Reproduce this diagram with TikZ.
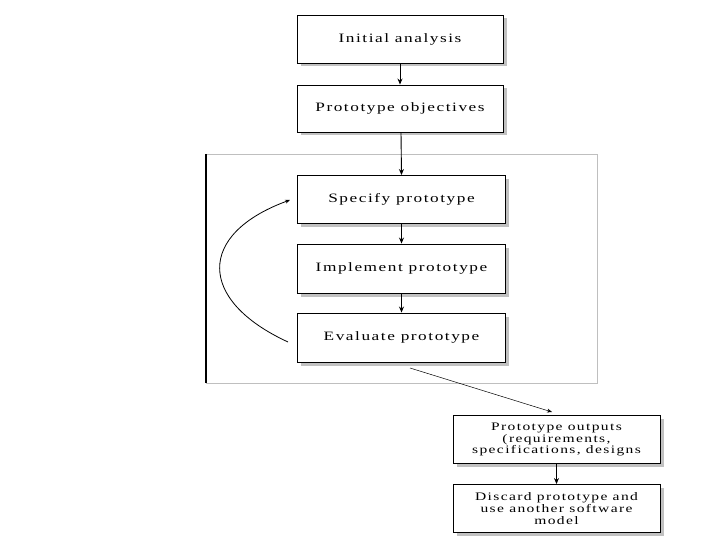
\documentclass[tikz,border=0pt]{standalone}
\usepackage{fontspec}
\setmainfont{Liberation Serif}
\newfontfamily\boxfont[FakeStretch=1.35,LetterSpace=12]{Liberation Serif}
\usetikzlibrary{shadows,arrows.meta}
\begin{document}
\begin{tikzpicture}[x=1pt,y=-1pt,
  stepbox/.style={draw=black,line width=0.9pt,fill=white,minimum width=206pt,minimum height=48pt,
    inner sep=1pt,align=center,font=\boxfont\fontsize{12.8}{12}\selectfont,
    drop shadow={shadow xshift=3.5pt,shadow yshift=-3.5pt,fill=gray!60,opacity=0.8}},
  multibox/.style={stepbox,font=\boxfont\fontsize{11.5}{11.8}\selectfont},
  arr/.style={-{Stealth[length=6pt,width=5pt]},line width=0.9pt},
  thinarr/.style={-{Stealth[length=5pt,width=4pt]},line width=0.5pt}]
\useasboundingbox (0,0) rectangle (720,540);
% outer frame
\draw[gray!50,line width=0.6pt] (206,154) rectangle (597,383);
\draw[black,line width=1.8pt] (206,154) -- (206,383);
\node[stepbox] (ia) at (400,39) {Initial analysis};
\node[stepbox,minimum height=47pt] (po) at (400,108.5) {Prototype objectives};
\node[stepbox,minimum width=208pt] (sp) at (401.5,199.5) {Specify prototype};
\node[stepbox,minimum width=208pt,minimum height=49pt] (ip) at (401.5,268.5) {Implement prototype};
\node[stepbox,minimum width=208pt,minimum height=49pt] (ep) at (401.5,337.5) {Evaluate prototype};
\node[multibox,minimum width=207pt] (out) at (556.5,439.5) {Prototype outputs\\(requirements,\\specifications, designs};
\node[multibox,minimum width=207pt] (dis) at (556.5,508.5) {Discard prototype and\\use another software\\model};
\draw[arr] (ia.south) -- (ia.south |- po.north);
\draw[arr] (po.south) ++(1,0) -- (sp.north);
\draw[arr] (sp) -- (ip);
\draw[arr] (ip) -- (ep);
\draw[arr] (out) -- (dis);
\coordinate (cs) at (288,342);
\coordinate (ce) at (290,200);
\draw[thinarr,line width=0.8pt] (cs) .. controls (197,300) and (197,234) .. (ce);
\coordinate (ds) at (410,368);
\coordinate (de) at (552,412);
\draw[thinarr] (ds) -- (de);
\end{tikzpicture}
\end{document}
